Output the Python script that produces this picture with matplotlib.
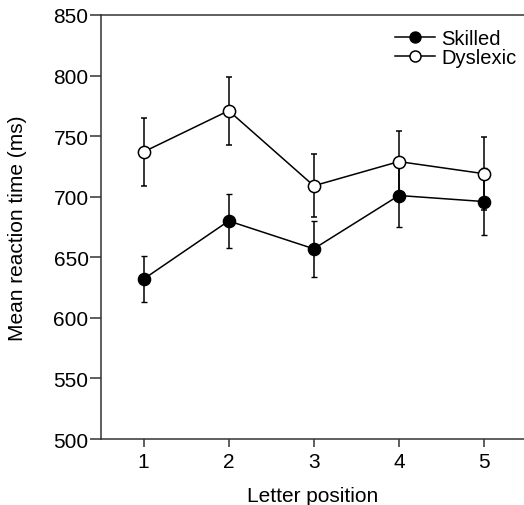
import matplotlib.pyplot as plt

plt.rcParams['font.family'] = ['Liberation Sans', 'DejaVu Sans']

positions = [1, 2, 3, 4, 5]
skilled = [632, 680, 657, 701, 696]
skilled_err = [19, 22, 23, 26, 28]
dyslexic = [737, 771, 709, 729, 719]
dyslexic_err = [28, 28, 26, 25, 30]

fig = plt.figure(figsize=(5.24, 5.06), dpi=100)
ax = fig.add_axes([0.1928, 0.1304, 0.8072, 0.838])

ax.errorbar(positions, skilled, yerr=skilled_err, color='black', lw=1.1,
            marker='o', ms=8.8, mfc='black', mec='black', capsize=2.3,
            elinewidth=1.1, label='Skilled', zorder=2)
ax.errorbar(positions, dyslexic, yerr=dyslexic_err, color='black', lw=1.1,
            marker='o', ms=8.8, mfc='white', mec='black', mew=1.1, capsize=2.3,
            elinewidth=1.1, label='Dyslexic', zorder=3)

ax.set_xlim(0.5, 5.47)
ax.set_ylim(500, 850)
ax.set_xticks(positions)
ax.set_yticks(range(500, 851, 50))
ax.tick_params(direction='out', width=1.1, color='#333333', labelsize=15)
ax.tick_params(axis='y', length=8, pad=1)
ax.tick_params(axis='x', length=6, pad=3)
for side in ['left', 'bottom', 'top']:
    ax.spines[side].set_linewidth(1.1)
    ax.spines[side].set_color('#333333')
ax.spines['right'].set_visible(False)

ax.set_xlabel('Letter position', fontsize=15, labelpad=11)
ax.set_ylabel('Mean reaction time (ms)', fontsize=15, labelpad=19)

handles, labels = ax.get_legend_handles_labels()
handles = [h[0] for h in handles]
ax.legend(handles, labels, loc='upper right', frameon=False, fontsize=14.5,
          handlelength=2.0, handletextpad=0.3, labelspacing=0.0,
          borderaxespad=0.2, bbox_to_anchor=(1.01, 0.995), markerscale=0.9)

fig.savefig('out.png', dpi=100)
